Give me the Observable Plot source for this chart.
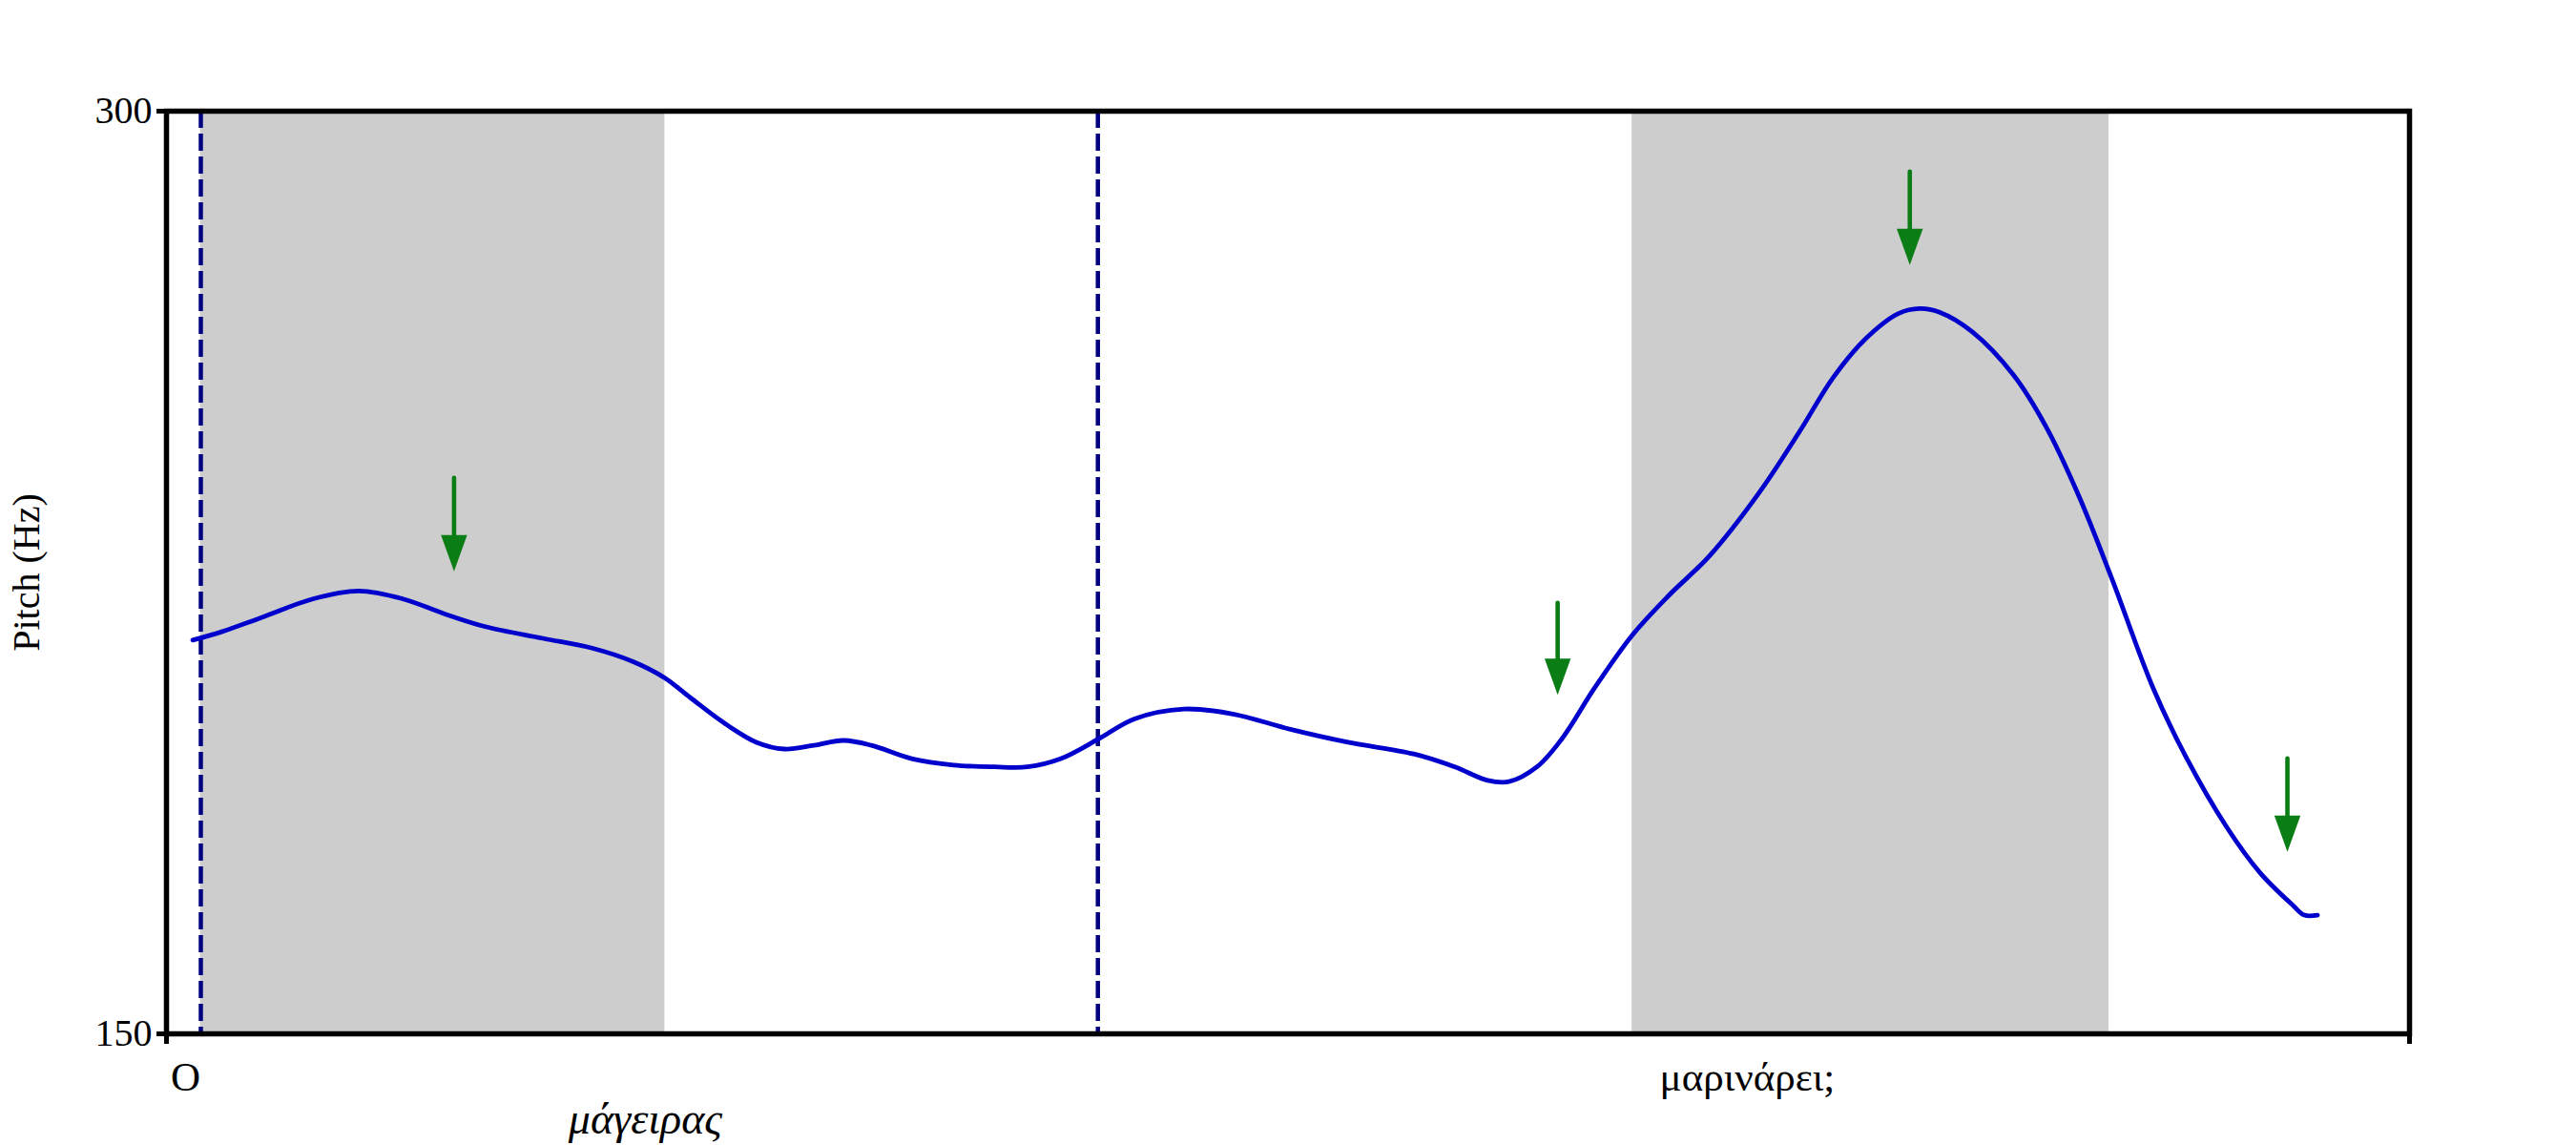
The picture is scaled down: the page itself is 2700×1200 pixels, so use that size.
<!DOCTYPE html>
<html>
<head>
<meta charset="utf-8">
<script src="https://cdn.jsdelivr.net/npm/d3@7"></script>
<script src="https://cdn.jsdelivr.net/npm/@observablehq/plot@0.6"></script>
<style>
  html, body { margin: 0; padding: 0; background: #ffffff; }
  #chart { width: 2700px; height: 1200px; }
</style>
</head>
<body>
<div id="chart"></div>
<script>
// ---- Data (time in seconds, pitch in Hz) ----
const pitchTime = [0.016, 0.034, 0.059, 0.089, 0.117, 0.144, 0.169, 0.194, 0.229, 0.259,
  0.284, 0.303, 0.319, 0.339, 0.359, 0.376, 0.394, 0.412, 0.429, 0.454,
  0.479, 0.504, 0.524, 0.544, 0.567, 0.589, 0.619, 0.649, 0.684, 0.719,
  0.759, 0.784, 0.804, 0.817, 0.834, 0.849, 0.869, 0.892, 0.914, 0.939,
  0.969, 0.994, 1.014, 1.034, 1.054, 1.067, 1.079, 1.099, 1.124, 1.144,
  1.164, 1.184, 1.209, 1.229, 1.254, 1.274, 1.294, 1.301, 1.309];
const pitchHz = [214.0, 215.4, 217.8, 220.7, 222.0, 220.7, 218.3, 216.2, 214.3, 212.7,
  210.5, 207.9, 204.6, 200.6, 197.4, 196.3, 196.9, 197.7, 196.9, 194.7,
  193.7, 193.4, 193.4, 194.7, 197.9, 201.2, 202.8, 202.0, 199.5, 197.4,
  195.5, 193.4, 191.2, 191.0, 193.4, 197.9, 206.2, 214.8, 221.2, 227.7,
  237.9, 248.0, 256.6, 263.0, 267.1, 267.9, 267.3, 264.1, 257.1, 248.6,
  237.3, 223.9, 206.2, 195.0, 183.5, 176.2, 170.9, 169.3, 169.3];

// stressed-syllable intervals (grey bands)
const bandStart = [0.0207, 0.8919];
const bandEnd   = [0.3033, 1.1821];

// phrase boundaries (dashed lines)
const boundaryTime = [0.0209, 0.5668];

// pitch-accent arrows
const arrowTime = [0.175, 0.8466, 1.0609, 1.2907];
const arrowTop  = [240.3, 220.0, 290.1, 194.7];
const arrowTip  = [225.2, 205.1, 275.0, 179.6];

// words of the sentence
const words     = ["Ο", "μάγειρας", "μαρινάρει;"];
const wordStart = [0.0026, 0.2446, 0.9087];
const wordFocus = [false, true, false];

const timeDomain = [0, 1.365];
const hzDomain = [150, 300];
const hzTicks = [150, 300];
const yLabel = "Pitch (Hz)";

// ---- Tables built from arrays ----
const pitch = pitchTime.map((t, i) => ({t, hz: pitchHz[i]}));
const bands = bandStart.map((s, i) => ({s, e: bandEnd[i]}));
const arrows = arrowTime.map((t, i) => ({t, top: arrowTop[i], tip: arrowTip[i]}));
const wordRows = words.map((w, i) => ({w, t: wordStart[i], focus: wordFocus[i]}));

const green = "#0a7d14";
const downHead = {
  draw(ctx) {
    ctx.moveTo(0, 0);
    ctx.lineTo(-13.7, -38);
    ctx.lineTo(13.7, -38);
    ctx.closePath();
  }
};

const chart = Plot.plot({
  width: 2700,
  height: 1200,
  marginLeft: 174,
  marginRight: 175,
  marginTop: 116,
  marginBottom: 117,
  style: {
    fontFamily: "'Liberation Serif', 'Times New Roman', serif",
    fontSize: "40px",
    background: "#ffffff",
    color: "#000000"
  },
  x: {domain: timeDomain},
  y: {domain: hzDomain},
  marks: [
    Plot.rect(bands, {x1: "s", x2: "e", fill: "#cdcdcd"}),
    Plot.ruleX(boundaryTime, {stroke: "#000080", strokeWidth: 4.5, strokeDasharray: "18,6"}),
    Plot.line(pitch, {x: "t", y: "hz", stroke: "#0000cd", strokeWidth: 4.8, curve: "catmull-rom"}),
    Plot.ruleX(arrows, {x: "t", y1: "top", y2: "tip", stroke: green, strokeWidth: 4.6, strokeLinecap: "round", insetBottom: 30}),
    Plot.dot(arrows, {x: "t", y: "tip", symbol: downHead, fill: green, stroke: "none", r: 5}),
    Plot.axisY({ticks: hzTicks, tickSize: 10, tickPadding: 5, strokeWidth: 5, tickFormat: d3.format("d"), label: null}),
    Plot.axisX({ticks: timeDomain, tickSize: 11, strokeWidth: 5, tickFormat: () => "", label: null}),
    Plot.text([yLabel], {frameAnchor: "left", rotate: -90, dx: -146, textAnchor: "middle", lineAnchor: "middle", fill: "#000"}),
    Plot.text(wordRows.filter(d => !d.focus), {x: "t", text: "w", frameAnchor: "bottom", textAnchor: "start", lineAnchor: "bottom", dy: 59, fontSize: 43, fill: "#000"}),
    Plot.text(wordRows.filter(d => d.focus), {x: "t", text: "w", frameAnchor: "bottom", textAnchor: "start", lineAnchor: "bottom", dy: 104, fontSize: 46, fontStyle: "italic", fill: "#000"}),
    Plot.frame({stroke: "#000", strokeWidth: 5.5})
  ]
});
document.getElementById("chart").appendChild(chart);
</script>
</body>
</html>
